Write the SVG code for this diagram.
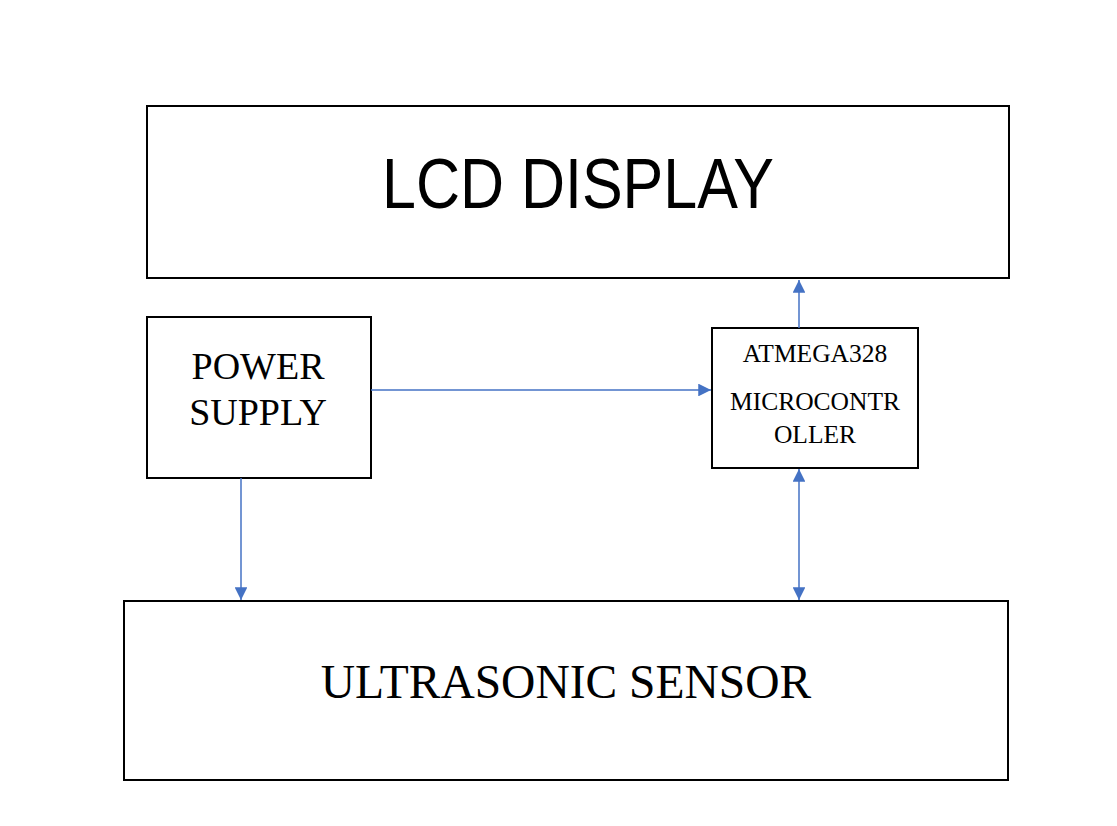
<svg xmlns="http://www.w3.org/2000/svg" width="1117" height="826" viewBox="0 0 1117 826">
<style>
.box{fill:#fff;stroke:#000;stroke-width:2}
.serif{font-family:"Liberation Serif","Times New Roman",serif;fill:#000;text-anchor:middle}
.sans{font-family:"Liberation Sans",Arial,sans-serif;fill:#000;text-anchor:middle}
.con{stroke:#4472C4;stroke-width:1.5;fill:none}
</style>
<defs>
<marker id="ah" viewBox="0 0 10 10" refX="10" refY="5" markerWidth="8.5" markerHeight="8.5" markerUnits="strokeWidth" orient="auto-start-reverse">
<path d="M0,0 L10,5 L0,10 Z" fill="#4472C4"/>
</marker>
</defs>
<rect width="1117" height="826" fill="#fff"/>
<g id="lcd">
<rect class="box" x="147" y="106" width="862" height="172"/>
<text class="sans" x="578" y="208" font-size="70" textLength="392" lengthAdjust="spacingAndGlyphs">LCD DISPLAY</text>
</g>
<g id="power">
<rect class="box" x="147" y="317" width="224" height="161"/>
<text class="serif" x="258" y="379" font-size="38">POWER</text>
<text class="serif" x="258" y="425" font-size="38">SUPPLY</text>
</g>
<g id="mcu">
<rect class="box" x="712" y="328" width="206" height="140"/>
<text class="serif" x="815" y="362" font-size="25.5">ATMEGA328</text>
<text class="serif" x="815" y="410" font-size="25.5">MICROCONTR</text>
<text class="serif" x="815" y="443" font-size="25.5">OLLER</text>
</g>
<g id="sensor">
<rect class="box" x="124" y="601" width="884" height="179"/>
<text class="serif" x="566" y="698" font-size="47.5">ULTRASONIC SENSOR</text>
</g>
<g id="connectors">
<line class="con" x1="799" y1="328" x2="799" y2="280" marker-end="url(#ah)"/>
<line class="con" x1="371" y1="390" x2="711" y2="390" marker-end="url(#ah)"/>
<line class="con" x1="241" y1="478" x2="241" y2="600" marker-end="url(#ah)"/>
<line class="con" x1="799" y1="469" x2="799" y2="600" marker-start="url(#ah)" marker-end="url(#ah)"/>
</g>
</svg>
